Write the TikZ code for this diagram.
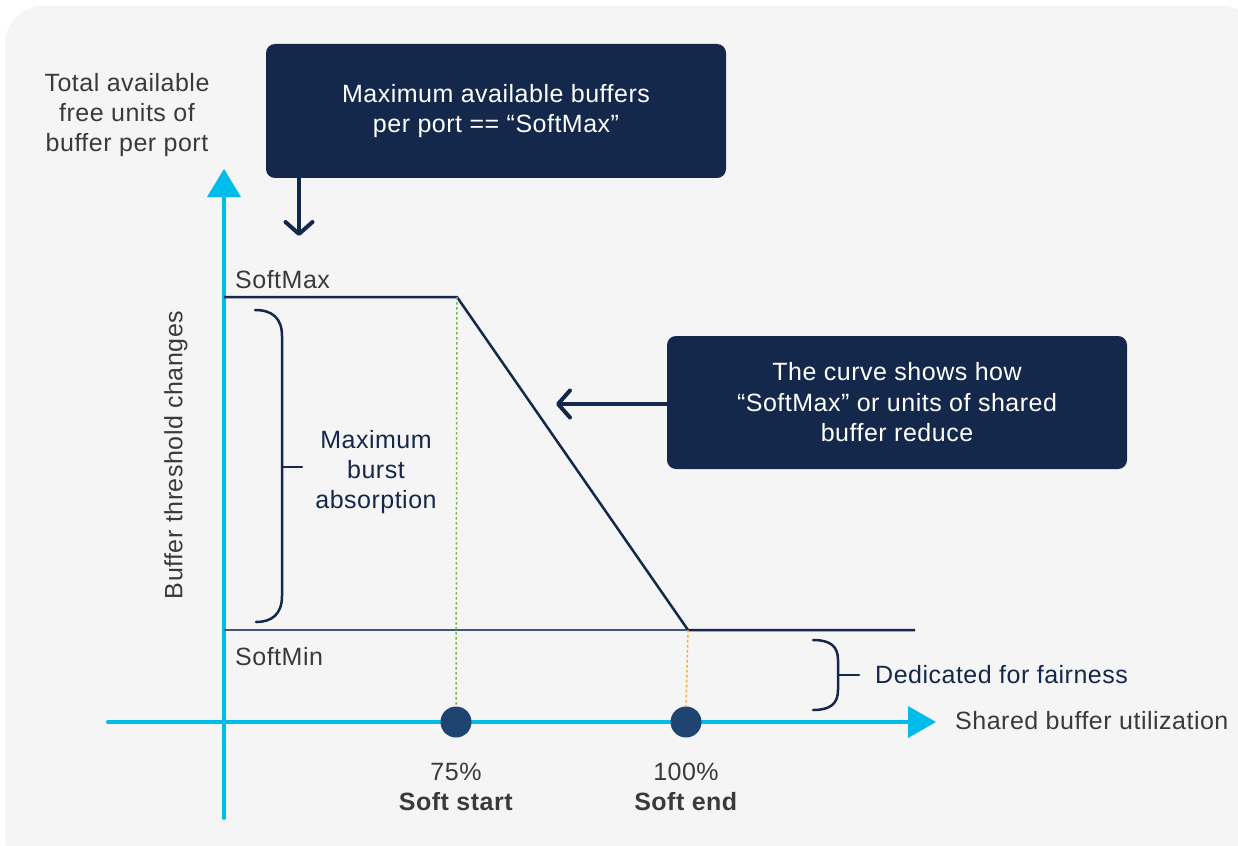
\documentclass[tikz,border=0pt]{standalone}
\usepackage{fontspec}
\setmainfont{Liberation Sans}[LetterSpace=2]
\usetikzlibrary{arrows.meta}
\definecolor{bg}{HTML}{F5F5F5}
\definecolor{navy}{HTML}{14284B}
\definecolor{cyanax}{HTML}{00BCEB}
\definecolor{dotblue}{HTML}{1F4471}
\definecolor{txtgray}{HTML}{3A3A3A}
\definecolor{greend}{HTML}{6CC04A}
\definecolor{orangd}{HTML}{FBAB2C}
\definecolor{minline}{HTML}{3D5A80}
\begin{document}
\begin{tikzpicture}[x=1pt,y=-1pt,
  lbl/.style={font=\fontsize{25}{30}\selectfont, text=txtgray, inner sep=0pt},
  navytxt/.style={font=\fontsize{25}{30}\selectfont, text=navy, inner sep=0pt},
  callout/.style={fill=navy, rounded corners=9pt, inner sep=0pt, font=\fontsize{25}{30.5}\selectfont, text=white, align=center},
  axis/.style={draw=cyanax, line width=4pt, line cap=round},
  curve/.style={draw=navy, line width=2.5pt},
  brk/.style={draw=navy, line width=2.5pt, line cap=round},
  chev/.style={draw=navy, line width=4pt, -{Straight Barb[length=12pt,width=27pt,line cap=round,line join=round]}},
  dotc/.style={circle, fill=dotblue, minimum size=31pt, inner sep=0pt}
]
\useasboundingbox (0,0) rectangle (1238,845);
\begin{scope}
\clip (0,0) rectangle (1238,845);
\fill[bg, rounded corners=38pt] (5,6) rectangle (1260,875);
\end{scope}

% callout boxes
\node[callout, minimum width=460pt, minimum height=134pt] (box1) at (496,111) {Maximum available buffers\\per port == “SoftMax”};
\node[callout, minimum width=460pt, minimum height=133pt] (box2) at (897,402.5) {The curve shows how\\“SoftMax” or units of shared\\buffer reduce};

% axes
\coordinate (yb) at (224,818);
\coordinate (yt) at (224,197);
\coordinate (xl) at (108,722);
\coordinate (xr) at (910,722);
\draw[axis] (yb) -- (yt);
\fill[cyanax] (207,197) -- (224,169) -- (241,197) -- cycle;
\draw[axis] (xl) -- (xr);
\fill[cyanax] (908,706) -- (936,722) -- (908,738) -- cycle;

% axis labels
\node[lbl, align=center] (ylab) at (127,115) {Total available\\free units of\\buffer per port};
\node[lbl, rotate=90] (ylab2) at (176,455) {Buffer threshold changes};
\node[lbl, anchor=west] (xlab) at (955,721) {Shared buffer utilization};

% levels
\node[lbl, anchor=west] (smax) at (235,280) {SoftMax};
\node[lbl, anchor=west] (smin) at (235,657) {SoftMin};

\coordinate (p0) at (224,297);
\coordinate (p1) at (457,297);
\coordinate (p2) at (688,630);
\coordinate (p3) at (915,630);
\coordinate (m0) at (224,630);
\draw[draw=minline, line width=2pt] (m0) -- (p2);
\draw[curve, line join=round] (p0) -- (p1) -- (p2) -- (p3);

% dots
\node[dotc] (d1) at (456,722) {};
\node[dotc] (d2) at (686,722) {};
\draw[greend, line width=1.5pt, dash pattern=on 2.5pt off 2.5pt] (p1) -- (d1.north);
\draw[orangd, line width=1.5pt, dash pattern=on 2.5pt off 2.5pt] (p2) -- (d2.north);

\node[lbl, align=center] (l1) at (456,787) {75\%\\\textbf{Soft start}};
\node[lbl, align=center] (l2) at (686,787) {100\%\\\textbf{Soft end}};

% brackets
\draw[brk] (255,310) .. controls (272,310) and (282,318) .. (282,336) -- (282,596) .. controls (282,614) and (272,622) .. (256,622);
\draw[brk] (282,467) -- (302,467);
\node[navytxt, align=center] (mba) at (376,472) {Maximum\\burst\\absorption};

\draw[brk] (813,640) .. controls (830,640) and (838,646) .. (838,660) -- (838,690) .. controls (838,704) and (830,710) .. (813,710);
\draw[brk] (838,675) -- (859,675);
\node[navytxt, anchor=west] (ded) at (875,675) {Dedicated for fairness};

% callout arrows
\coordinate (a1) at (299,236);
\draw[chev] (box1.south -| a1) -- (a1);
\coordinate (a2) at (556,404);
\draw[chev] (box2.west |- a2) -- (a2);
\end{tikzpicture}
\end{document}
